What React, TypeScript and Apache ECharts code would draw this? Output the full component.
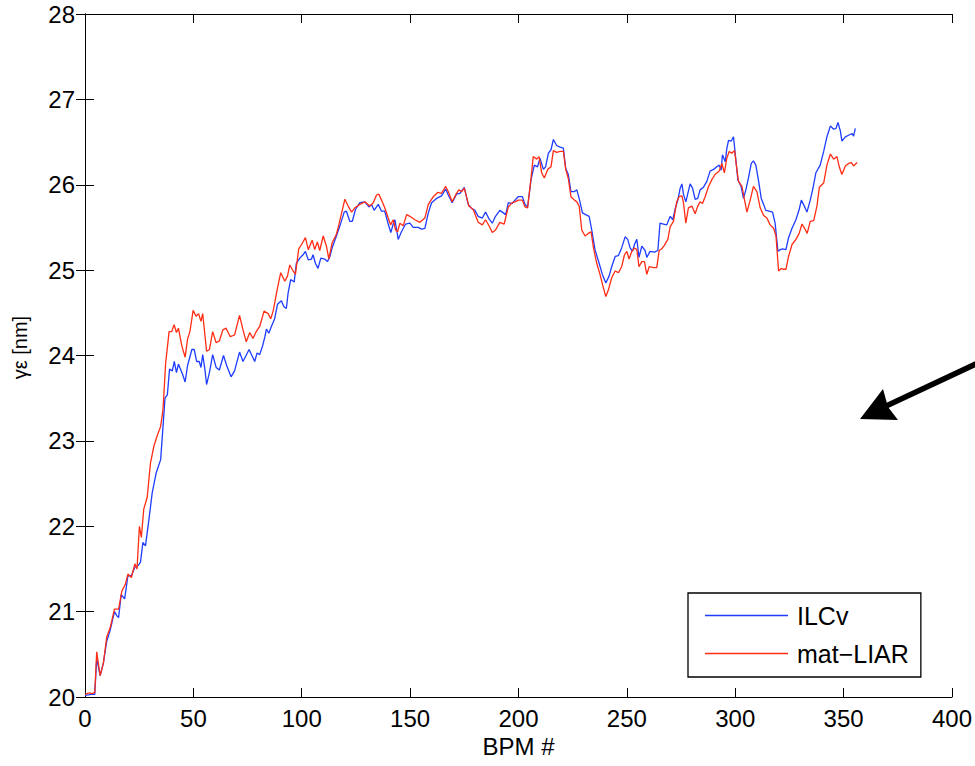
import React, { useEffect, useRef } from "react";
import * as echarts from "echarts";

// ILCv series (BPM index, normalized emittance in nm)
const ilcvX = [0,3,4.5,5.4,7,8.5,10,11.6,13.6,14.7,15.5,16.7,18.3,19.8,21.4,23,24.5,25.6,26.7,27.9,29.5,31,32.9,34.9,36,36.9,38,39,40.3,41.2,42.2,43.1,45,46.2,47.3,49.3,50.4,51.5,52.7,53.5,54.3,55.3,56.1,57.4,58.9,60.5,62,63.9,65.4,67.4,69,71.3,72.9,75.7,78.3,79.4,80.6,81.9,83,83.7,84.8,86,87.5,88.8,90.6,91.8,92.9,93.7,94.9,96.5,97.5,99.1,100.6,101.7,103,104.5,105.2,106.3,107.5,108.8,110.6,111.9,113,114,116,118,119.6,120.6,122.2,123.3,124.8,126.8,129.1,131,132.2,133.4,135.3,136.8,138.3,139.9,141.1,142.2,143,144.5,146,147.9,149.9,151.4,153.7,155.3,156.8,158.4,159.9,162.2,164.5,166.4,167.6,169.4,171.4,173,175,176.8,178.5,179.9,181.4,183.3,184.8,186.4,187.9,189.4,191.4,194.1,195.3,197.1,198.4,199.9,201.8,203,204.2,205.8,207.3,208.8,209.9,211.5,212.5,213.8,215,216.1,217.6,219.2,220.7,221.8,223,224.2,225.8,226.9,228,229.5,231,232.6,233.8,235.3,237.2,238.7,240.3,241.8,243,244.6,246.1,247.6,249.2,250.4,251.5,252.6,253.5,254.6,255.6,256.9,258.4,259.2,260.7,262.7,264.3,265.3,266.9,268.4,270,271.2,272.3,273.5,274.6,275.4,276.1,277.2,279.2,280.3,281.5,282.7,283.8,285.3,286.9,288.4,290,291.5,292.6,293.5,294.1,295.4,296.1,296.9,298.1,299.2,300.3,301.2,302.7,303.8,304.9,306.1,307.4,308.4,309.5,310.8,312,313.1,314.1,315.7,317.2,318.4,319.7,320.8,321.8,323.4,324.6,326.2,328,329.5,330.5,331.5,333.1,334.6,335.7,337.2,339.2,340.8,342.3,343.9,345.4,346.5,347.4,348.5,349.2,350.8,352.3,353.9,354.6,355.4];
const ilcvY = [20.02,20.03,20.03,20.45,20.25,20.4,20.65,20.78,21.0,20.95,20.93,21.2,21.15,21.42,21.42,21.52,21.54,21.58,21.81,21.77,22.08,22.39,22.63,22.78,23.17,23.5,23.54,23.84,23.82,23.93,23.8,23.9,23.78,23.69,23.88,24.07,24.07,23.93,23.93,23.86,24.01,23.84,23.66,23.8,24.01,23.86,23.83,24.0,23.88,23.75,23.82,24.04,23.93,24.07,23.93,24.03,24.01,24.11,24.22,24.31,24.26,24.34,24.43,24.6,24.64,24.57,24.55,24.73,24.89,24.86,25.08,25.14,25.18,25.22,25.12,25.13,25.18,25.08,25.02,25.14,25.13,25.1,25.16,25.26,25.4,25.55,25.68,25.69,25.57,25.57,25.71,25.79,25.8,25.74,25.77,25.7,25.77,25.69,25.69,25.54,25.44,25.54,25.59,25.36,25.45,25.54,25.55,25.5,25.5,25.48,25.49,25.67,25.79,25.84,25.87,25.95,25.88,25.79,25.89,25.9,25.97,25.77,25.72,25.7,25.63,25.61,25.68,25.6,25.55,25.63,25.7,25.65,25.79,25.78,25.82,25.86,25.86,25.77,25.74,26.06,26.23,26.21,26.31,26.18,26.21,26.37,26.41,26.53,26.46,26.44,26.43,26.19,26.12,25.92,25.92,25.94,25.84,25.67,25.65,25.63,25.47,25.24,25.08,24.95,24.85,24.93,25.04,25.16,25.17,25.26,25.39,25.36,25.26,25.22,25.3,25.36,25.15,25.28,25.23,25.15,25.22,25.21,25.23,25.55,25.54,25.53,25.63,25.59,25.72,25.82,25.96,26.01,25.89,25.8,26.01,25.96,25.83,25.84,25.94,25.97,26.04,26.16,26.18,26.21,26.23,26.17,26.35,26.27,26.42,26.52,26.51,26.56,26.29,26.06,25.98,25.84,25.94,26.08,26.25,26.28,26.23,26.04,25.84,25.77,25.7,25.69,25.68,25.55,25.22,25.24,25.25,25.24,25.38,25.49,25.59,25.71,25.82,25.77,25.68,25.82,25.94,26.14,26.23,26.39,26.56,26.69,26.65,26.66,26.73,26.63,26.51,26.56,26.58,26.6,26.57,26.66];

// mat-LIAR series
const liarX = [0,2,3,4.5,5.4,7,8.5,10,11.6,13.6,15.5,17,18.6,19.8,21.4,23,24,25.1,26,27.1,28.7,30.2,31.8,33.3,34.9,36,37.2,38.8,40,41.1,42.2,43.1,44.7,46.2,47.3,48.4,49.9,51.2,52.4,53.5,54.3,56.1,57.4,58.9,60.5,62,63.6,65.1,67,69,71.3,72.9,74.4,76,77.5,79,80.6,82.6,84.5,85.7,86.8,88.8,90.3,92.2,93.4,94.5,96,97.1,98.6,99.9,101.7,103,104.8,106,107.2,108.3,109.9,111.4,112.5,114,116,117.1,118.6,119.9,121.4,123,124.5,126.8,129.1,131.4,133,134.5,135.6,136.8,138.3,139.9,141,142.2,143.3,144.2,145.3,146.8,148.4,149.9,152.2,154.5,156.8,158.4,160.7,162.7,164.5,166.4,167.6,169.4,171.4,172.5,173.8,175,176,177.1,179.1,181.4,183.3,184.8,186.4,187.9,189.4,191.4,193.4,195.3,197.1,198.4,199.9,201.8,203,204.2,205.8,206.8,208.4,209.5,210.7,211.9,213.5,215,216.1,217.6,219.2,220.7,221.8,223,224.2,225.8,226.9,228,229.2,230.7,232.2,233.5,234.6,236.1,237.6,239.2,240.3,241.5,243,244.6,246.1,247.6,248.9,250,251,252.3,253.5,254.6,255.6,256.9,258.1,259.2,260.3,262.3,263.8,264.9,266.1,267.3,268.9,270,271.5,273,274.1,275.4,276.1,277.2,278.4,280,281.5,282.7,283.8,284.9,286.1,287.7,289.2,290.7,292.6,293.8,295,296.1,297.2,298.4,299.7,300.7,301.5,303.1,304.3,305.4,306.9,308.4,310,311.5,313.1,314.6,316.1,317.7,318.8,320,321.2,322.3,323.4,324.6,326.2,328,329.5,330.8,332,333.2,334.6,336.2,337.7,338.8,340.8,342.3,343.9,345.4,346.9,348,349.2,350.8,352.3,353.6,354.6,356.2];
const liarY = [20.03,20.05,20.04,20.05,20.53,20.25,20.4,20.7,20.81,21.03,21.03,21.24,21.32,21.44,21.4,21.56,21.5,22.0,21.87,22.2,22.34,22.74,22.94,23.06,23.17,23.37,23.91,24.28,24.28,24.36,24.27,24.32,24.11,23.98,24.19,24.28,24.53,24.46,24.49,24.4,24.49,24.05,24.07,24.28,24.15,24.17,24.3,24.32,24.22,24.24,24.47,24.3,24.16,24.27,24.2,24.28,24.34,24.52,24.49,24.43,24.52,24.79,24.97,24.87,24.93,25.06,24.99,24.95,25.25,25.3,25.38,25.24,25.35,25.24,25.33,25.23,25.4,25.28,25.13,25.32,25.42,25.53,25.69,25.83,25.75,25.68,25.73,25.77,25.8,25.75,25.79,25.88,25.89,25.82,25.73,25.61,25.53,25.59,25.47,25.45,25.55,25.52,25.65,25.63,25.59,25.56,25.61,25.77,25.86,25.91,25.9,25.98,25.92,25.8,25.9,25.94,25.92,25.96,25.86,25.75,25.71,25.56,25.53,25.59,25.52,25.44,25.47,25.56,25.54,25.74,25.79,25.8,25.82,25.82,25.74,25.73,26.08,26.33,26.3,26.33,26.14,26.08,26.18,26.21,26.4,26.38,26.39,26.39,26.18,26.07,25.86,25.82,25.8,25.75,25.47,25.4,25.43,25.45,25.26,25.08,24.95,24.79,24.69,24.77,24.91,24.99,24.97,25.04,25.18,25.22,25.13,25.22,25.26,25.24,25.04,25.1,25.1,24.95,25.04,25.03,25.03,25.23,25.25,25.29,25.36,25.51,25.57,25.8,25.86,25.87,25.79,25.55,25.73,25.75,25.66,25.75,25.8,25.78,25.86,25.98,26.06,26.12,26.16,26.25,26.14,26.31,26.39,26.37,26.4,26.19,26.04,25.98,25.82,25.68,25.82,25.98,25.92,25.73,25.64,25.61,25.53,25.49,25.4,24.99,25.02,25.01,25.01,25.16,25.3,25.36,25.43,25.54,25.49,25.43,25.57,25.58,25.75,25.97,26.02,26.23,26.36,26.3,26.33,26.21,26.12,26.22,26.25,26.26,26.22,26.26];

const seriesNames = ["ILCv", "mat\u2212LIAR"];
const xTicks = { min: 0, max: 400, interval: 50 };
const yTicks = { min: 20, max: 28, interval: 1 };

const FONT = "'Liberation Sans', Arial, Helvetica, sans-serif";

export default function App() {
  const ref = useRef<HTMLDivElement>(null);
  useEffect(() => {
    document.body.style.margin = "0";
    if (!ref.current) return;
    const chart = echarts.init(ref.current, undefined, { renderer: "svg" });
    const pair = (xs: number[], ys: number[]) => xs.map((x, i) => [x, ys[i]]);
    const axisLine = { show: true, lineStyle: { color: "#000", width: 1 } };
    const tick = { show: true, inside: true, length: 9, lineStyle: { color: "#000", width: 1 } };
    chart.setOption({
      animation: false,
      backgroundColor: "#fff",
      grid: { left: 85, top: 14, right: 23, bottom: 69, containLabel: false },
      legend: {
        orient: "vertical",
        left: 688,
        top: 593,
        data: seriesNames.map((n) => ({ name: n, icon: "rect" })),
        backgroundColor: "#fff",
        borderColor: "#000",
        borderWidth: 1.3,
        borderRadius: 0,
        padding: [10, 12, 11, 17],
        itemWidth: 83,
        itemHeight: 1.3,
        itemGap: 13,
        textStyle: { fontSize: 25, color: "#000", fontFamily: FONT, padding: [0, 0, 0, 4] },
      },
      xAxis: [
        {
          type: "value", ...xTicks, position: "bottom",
          axisLine, axisTick: tick, splitLine: { show: false },
          axisLabel: { fontSize: 24, color: "#000", fontFamily: FONT, margin: 9 },
          name: "BPM #", nameLocation: "middle", nameGap: 37,
          nameTextStyle: { fontSize: 24, color: "#000", fontFamily: FONT },
        },
        {
          type: "value", ...xTicks, position: "top",
          axisLine, axisTick: tick, splitLine: { show: false },
          axisLabel: { show: false },
        },
      ],
      yAxis: [
        {
          type: "value", ...yTicks, position: "left",
          axisLine, axisTick: tick, splitLine: { show: false },
          axisLabel: { fontSize: 24, color: "#000", fontFamily: FONT, margin: 10 },
          name: "\u03b3\u03b5 [nm]", nameLocation: "middle", nameGap: 55,
          nameTextStyle: { fontSize: 20, color: "#000", fontFamily: FONT, padding: [0, 0, 0, 16] },
        },
        {
          type: "value", ...yTicks, position: "right",
          axisLine, axisTick: tick, splitLine: { show: false },
          axisLabel: { show: false },
        },
      ],
      series: [
        {
          name: seriesNames[0], type: "line", xAxisIndex: 0, yAxisIndex: 0,
          data: pair(ilcvX, ilcvY), symbol: "none", showSymbol: false,
          lineStyle: { color: "#1f3dff", width: 1.3 }, itemStyle: { color: "#1f3dff" },
        },
        {
          name: seriesNames[1], type: "line", xAxisIndex: 0, yAxisIndex: 0,
          data: pair(liarX, liarY), symbol: "none", showSymbol: false,
          lineStyle: { color: "#ff2d14", width: 1.3 }, itemStyle: { color: "#ff2d14" },
        },
      ],
      graphic: [
        {
          type: "line",
          shape: { x1: 995, y1: 355, x2: 884, y2: 407 },
          style: { stroke: "#000", lineWidth: 5.5 },
          z: 100,
        },
        {
          type: "polygon",
          shape: { points: [[860, 419], [883, 389], [888, 407], [898, 420]] },
          style: { fill: "#000" },
          z: 100,
        },
      ],
    });
    return () => chart.dispose();
  }, []);
  return <div ref={ref} style={{ width: 975, height: 766 }} />;
}
